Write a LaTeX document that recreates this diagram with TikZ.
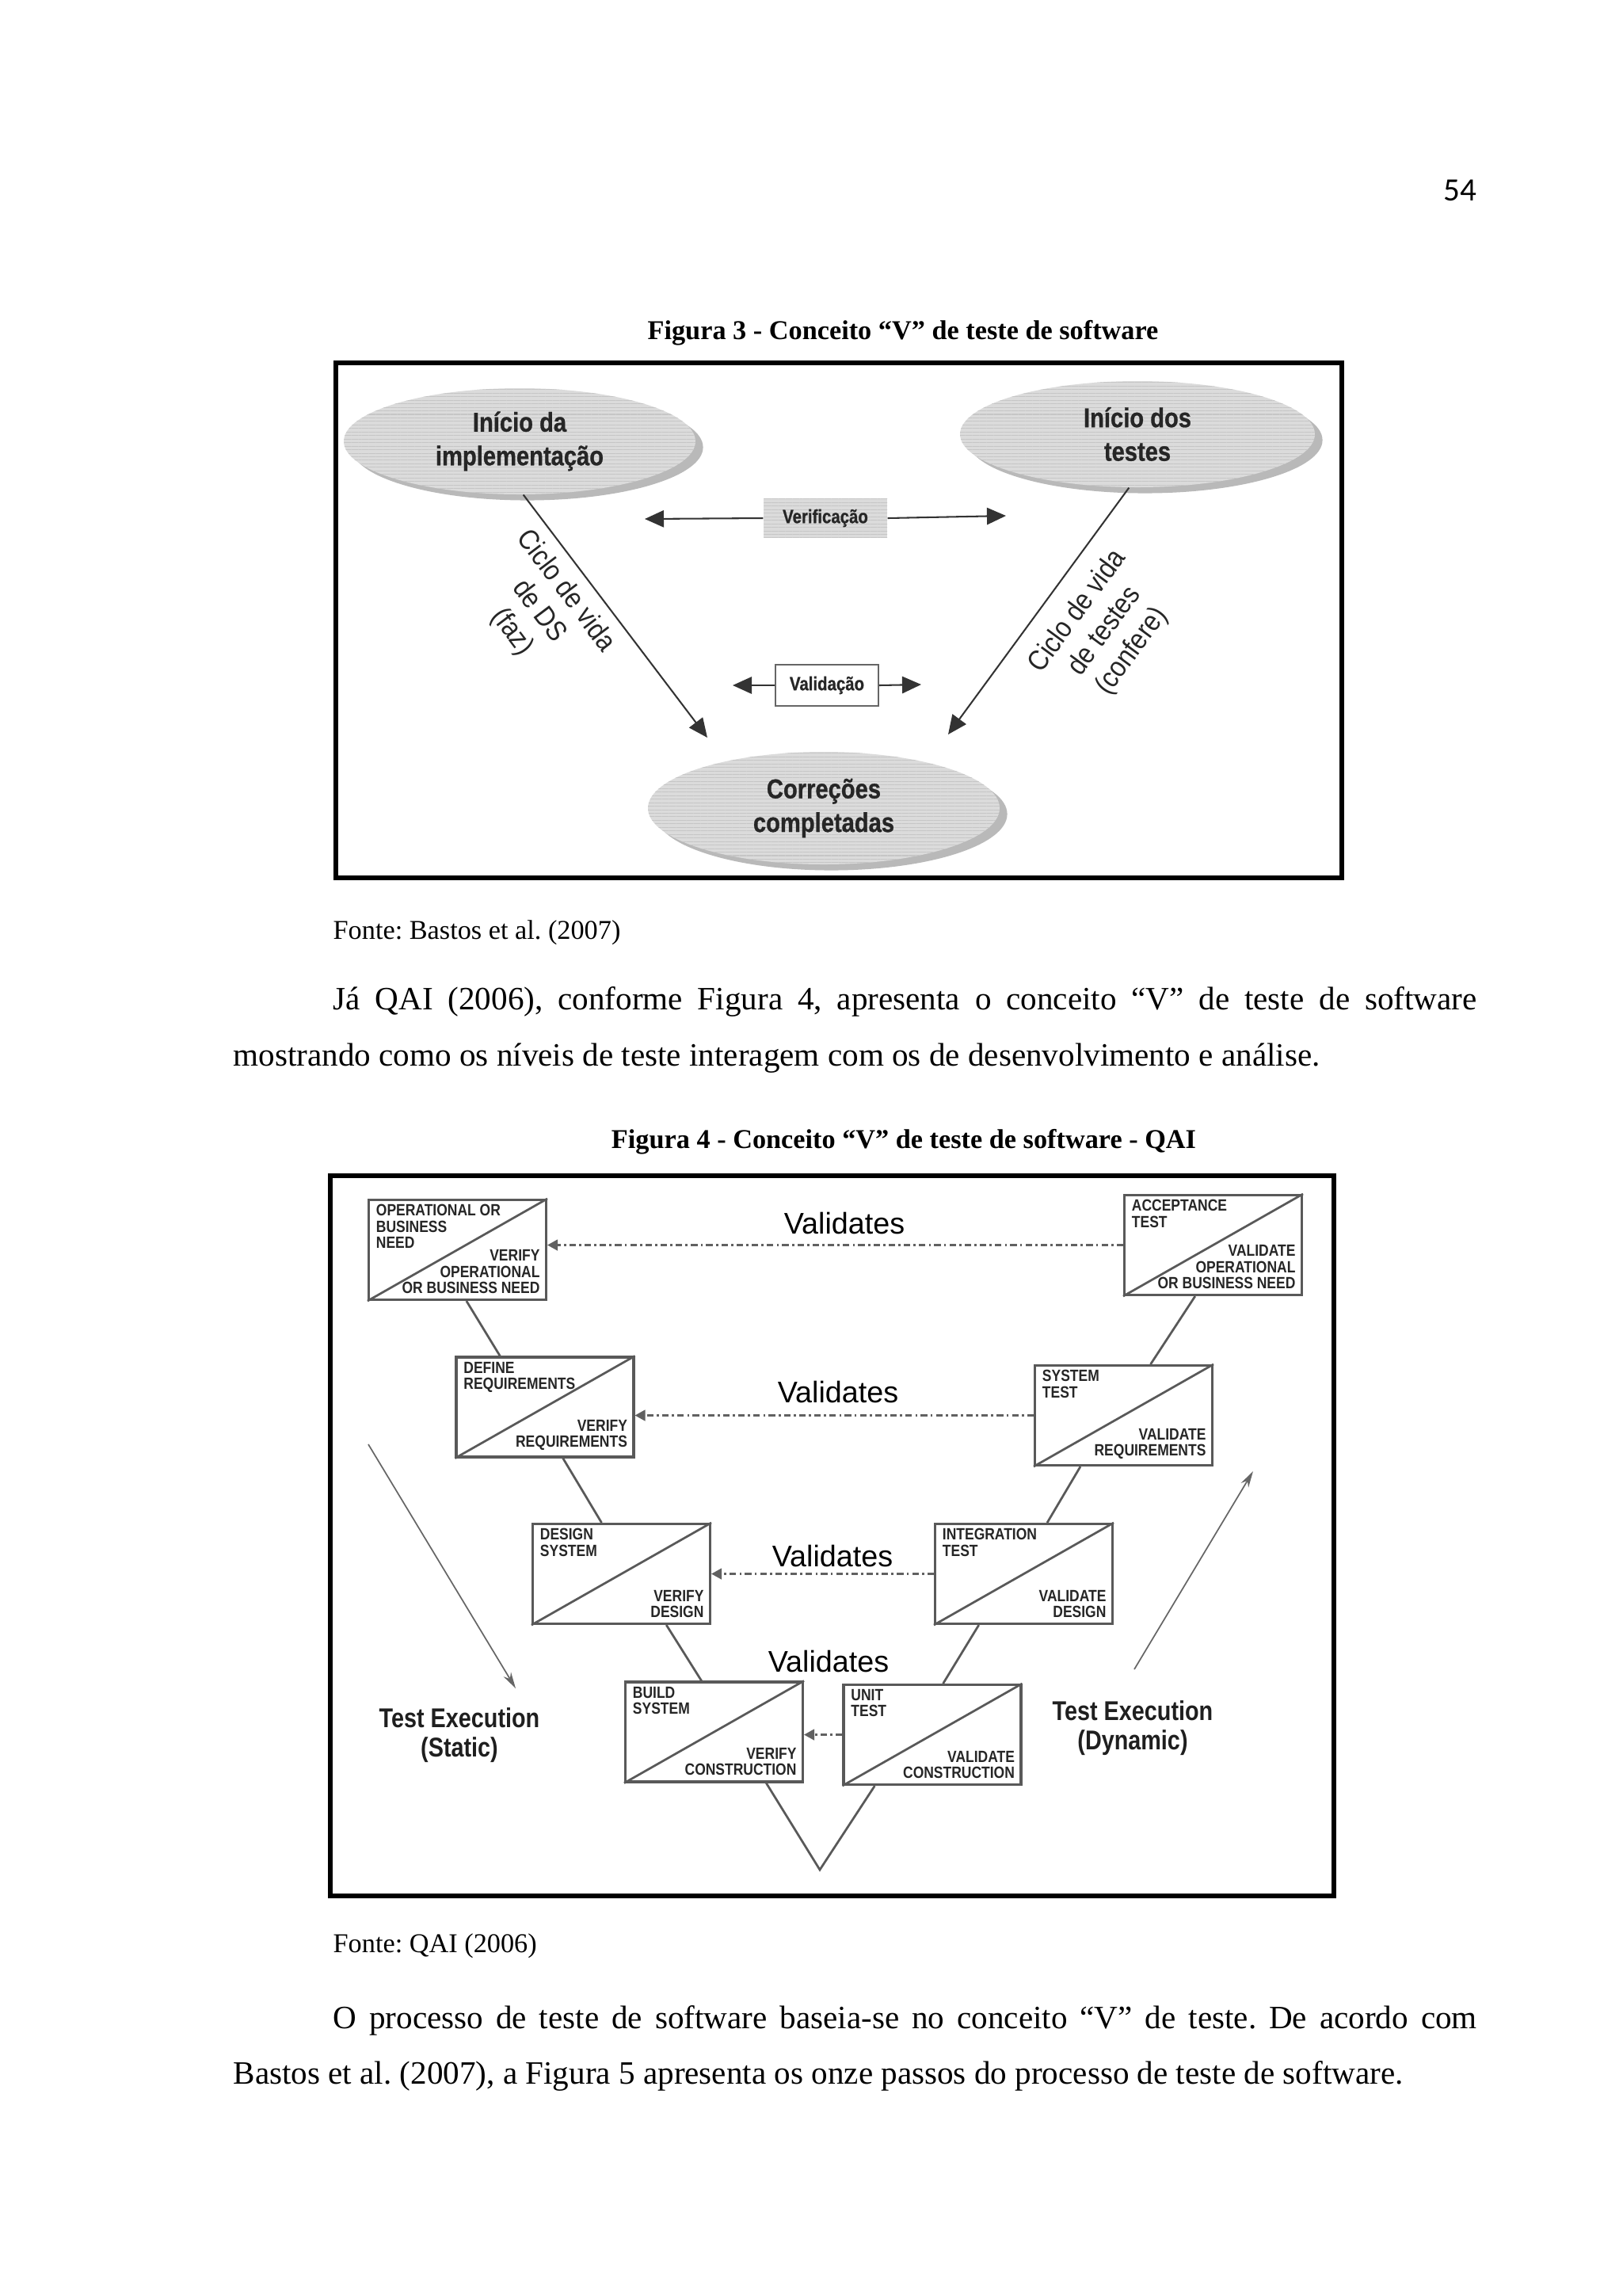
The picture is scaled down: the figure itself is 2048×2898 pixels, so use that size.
\documentclass[tikz,border=0pt]{standalone}
\usepackage{fontspec}
\setmainfont{Liberation Serif}
\newfontfamily\pagefont{Carlito}
\newfontfamily\condb[FakeStretch=0.85,FakeBold=0.8]{Liberation Sans Bold}
\newfontfamily\condr[FakeStretch=0.88]{Liberation Sans}
\newfontfamily\execf[FakeStretch=0.84]{Liberation Sans Bold}
\newfontfamily\boxfont[FakeStretch=0.85]{Liberation Sans Bold}
\newfontfamily\sansf{Liberation Sans}
\usetikzlibrary{shapes.geometric, arrows.meta, patterns.meta, shadows, calc}
\newdimen\pxu \pxu=0.0102539cm
\newcommand\qaibox[5]{%
  \node[qbox] (#1) at (#2) {};
  \draw[qline] (#1.south west) -- (#1.north east);
  \node[qtxt, anchor=north west, align=left] (#1t) at ([xshift=3pt,yshift=-2pt]#1.north west) {#4};
  \node[qtxt, anchor=south east, align=right] (#1b) at ([xshift=-2.6pt,yshift=2.6pt]#1.south east) {#5};
}
\tikzset{
  ellnode/.style={ellipse, inner sep=0pt, align=center, text=black!85,
    font=\condb\fontsize{10}{12.4}\selectfont,
    drop shadow={shadow xshift=2.8pt, shadow yshift=-2.2pt, fill=gray!55, opacity=1},
    preaction={fill=gray!28},
    pattern={Lines[angle=0,distance=1.3pt,line width=0.3pt]}, pattern color=gray!45},
  verbox/.style={rectangle, inner sep=0pt, text=black!85,
    font=\condb\fontsize{7}{8}\selectfont,
    preaction={fill=gray!28},
    pattern={Lines[angle=0,distance=1.3pt,line width=0.3pt]}, pattern color=gray!45},
  valbox/.style={rectangle, inner sep=0pt, draw=black!60, line width=0.5pt, fill=white,
    text=black!85, font=\condb\fontsize{7}{8}\selectfont},
  fthree/.style={-{Triangle[length=7pt,width=6.2pt]}, draw=black!80, fill=black!75, line width=0.6pt},
  rotlabel/.style={align=center, inner sep=0pt, text=black!85,
    font=\condr\fontsize{10.5}{12.4}\selectfont},
  frame/.style={draw=black, line width=1.5pt},
  qbox/.style={rectangle, draw=black!65, line width=0.9pt, fill=white, inner sep=0pt,
    minimum width=224*\pxu, minimum height=126*\pxu},
  qline/.style={draw=black!65, line width=0.8pt},
  qtxt/.style={inner sep=0pt, text=black!85, font=\boxfont\fontsize{6}{5.9}\selectfont},
  qarrow/.style={-{Triangle[length=3.8pt,width=4pt]}, draw=black!62, line width=0.7pt,
    dash pattern=on 2.4pt off 1.2pt on 0.8pt off 1.2pt},
  longarrow/.style={-{Stealth[length=6pt,width=3.2pt]}, draw=black!60, line width=0.5pt},
  valtxt/.style={inner sep=0pt, text=black, font=\sansf\fontsize{11}{13}\selectfont},
  exectxt/.style={inner sep=0pt, align=center, text=black!88, font=\execf\fontsize{10}{10.6}\selectfont},
  captxt/.style={inner sep=0pt, font=\bfseries\fontsize{10}{12}\selectfont},
  fontetxt/.style={inner sep=0pt, anchor=base west, font=\fontsize{10}{12}\selectfont},
  bodytxt/.style={inner sep=0pt, anchor=base west, font=\fontsize{12}{14}\selectfont}
}
\begin{document}
\frenchspacing
\begin{tikzpicture}[x=0.0102539cm, y=-0.0102539cm]
\fill[white] (0,0) rectangle (2048,2898);
\useasboundingbox (0,0) rectangle (2048,2898);

% page number
\node[inner sep=0pt, font=\pagefont\fontsize{12}{14}\selectfont] (pg) at (1843,240) {54};

% ---------------- Figure 3 ----------------
\node[captxt] (cap3) at (1140,420) {Figura 3 - Conceito “V” de teste de software};
\draw[frame] (424,458) rectangle (1694,1108);

\node[ellnode, minimum width=444*\pxu, minimum height=134*\pxu] (ell1) at (656,557) {Início da\\implementação};
\node[ellnode, minimum width=448*\pxu, minimum height=134*\pxu] (ell2) at (1436,548) {Início dos\\testes};
\node[ellnode, minimum width=444*\pxu, minimum height=142*\pxu] (ell3) at (1040,1020) {Correções\\completadas};

\coordinate (t1) at (893,931);
\coordinate (t2) at (1197,927);
\draw[fthree] (ell1.-86) -- (t1);
\draw[fthree] (ell2.-99) -- (t2);

\node[rotlabel, rotate=-52.9] (lab1) at (680,772) {Ciclo de vida\\de DS\\(faz)};
\node[rotlabel, rotate=53.6] (lab2) at (1395,797) {Ciclo de vida\\de testes\\(confere)};

\node[verbox, minimum width=156*\pxu, minimum height=50*\pxu] (ver) at (1042,654) {Verificação};
\coordinate (vl) at (814,655);
\coordinate (vr) at (1270,651);
\draw[fthree] (ver.west) -- (vl);
\draw[fthree] (ver.east) -- (vr);

\node[valbox, minimum width=130*\pxu, minimum height=52*\pxu] (val) at (1044,865) {Validação};
\coordinate (al) at (925,865);
\coordinate (ar) at (1163,864);
\draw[fthree] (val.west) -- (al);
\draw[fthree] (val.east) -- (ar);

\node[fontetxt] (fonte3) at (420,1185) {Fonte: Bastos et al. (2007)};

% ---------------- Paragraph 1 ----------------
\node[bodytxt] (p1a) at (420,1274) {\makebox[14.807cm][s]{Já QAI (2006), conforme Figura 4, apresenta o conceito “V” de teste de software}};
\node[bodytxt] (p1b) at (294,1345) {mostrando como os níveis de teste interagem com os de desenvolvimento e análise.};

% ---------------- Figure 4 ----------------
\node[captxt] (cap4) at (1141,1441) {Figura 4 - Conceito “V” de teste de software - QAI};
\draw[frame] (417,1484) rectangle (1684,2393);

\qaibox{b1}{577.5,1577.5}{}{OPERATIONAL OR\\BUSINESS\\NEED}{VERIFY\\OPERATIONAL\\OR BUSINESS NEED}
\qaibox{b2}{688,1776}{}{DEFINE\\REQUIREMENTS}{VERIFY\\REQUIREMENTS}
\qaibox{b3}{784.5,1986.5}{}{DESIGN\\SYSTEM}{VERIFY\\DESIGN}
\qaibox{b4}{901.5,2186}{}{BUILD\\SYSTEM}{VERIFY\\CONSTRUCTION}
\qaibox{b5}{1177,2189.5}{}{UNIT\\TEST}{VALIDATE\\CONSTRUCTION}
\qaibox{b6}{1292.5,1986.5}{}{INTEGRATION\\TEST}{VALIDATE\\DESIGN}
\qaibox{b7}{1418.5,1786.5}{}{SYSTEM\\TEST}{VALIDATE\\REQUIREMENTS}
\qaibox{b8}{1531.5,1571.5}{}{ACCEPTANCE\\TEST}{VALIDATE\\OPERATIONAL\\OR BUSINESS NEED}

% V connectors
\draw[qline] ($(b1.south west)!.55!(b1.south east)$) -- ($(b2.north west)!.25!(b2.north east)$);
\draw[qline] ($(b2.south west)!.60!(b2.south east)$) -- ($(b3.north west)!.39!(b3.north east)$);
\draw[qline] ($(b3.south west)!.75!(b3.south east)$) -- ($(b4.north west)!.43!(b4.north east)$);
\coordinate (vb) at (1035,2360);
\draw[qline] ($(b4.south west)!.79!(b4.south east)$) -- (vb) -- ($(b5.south west)!.18!(b5.south east)$);
\draw[qline] ($(b5.north west)!.56!(b5.north east)$) -- ($(b6.south west)!.25!(b6.south east)$);
\draw[qline] ($(b6.north west)!.63!(b6.north east)$) -- ($(b7.south west)!.26!(b7.south east)$);
\draw[qline] ($(b7.north west)!.65!(b7.north east)$) -- ($(b8.south west)!.40!(b8.south east)$);

% Validates arrows
\draw[qarrow] (b8.west) -- (b8.west -| b1.east);
\draw[qarrow] (b7.west) -- (b7.west -| b2.east);
\draw[qarrow] (b6.west) -- (b6.west -| b3.east);
\draw[qarrow] (b5.west) -- (b5.west -| b4.east);

\node[valtxt] (v1) at (1066,1544) {Validates};
\node[valtxt] (v2) at (1058,1757) {Validates};
\node[valtxt] (v3) at (1051,1964) {Validates};
\node[valtxt] (v4) at (1046,2097) {Validates};

% test execution arrows
\coordinate (sa) at (465,1823);
\coordinate (sb) at (651,2131);
\draw[longarrow] (sa) -- (sb);
\coordinate (da) at (1432,2107);
\coordinate (db) at (1582,1857);
\draw[longarrow] (da) -- (db);

\node[exectxt] (ex1) at (580,2190) {Test Execution\\(Static)};
\node[exectxt] (ex2) at (1430,2181) {Test Execution\\(Dynamic)};

\node[fontetxt] (fonte4) at (420,2464) {Fonte: QAI (2006)};

% ---------------- Paragraph 2 ----------------
\node[bodytxt] (p2a) at (420,2560) {\makebox[14.807cm][s]{O processo de teste de software baseia-se no conceito “V” de teste. De acordo com}};
\node[bodytxt] (p2b) at (294,2630) {Bastos et al. (2007), a Figura 5 apresenta os onze passos do processo de teste de software.};
\end{tikzpicture}
\end{document}
